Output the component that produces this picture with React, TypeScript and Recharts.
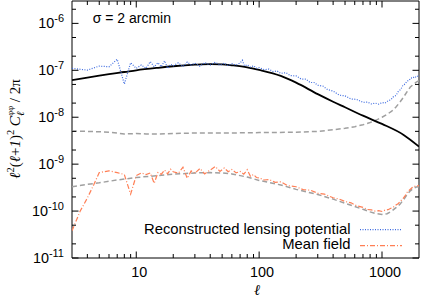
import React from 'react';
import { LineChart, Line, XAxis, YAxis, ReferenceArea } from 'recharts';

// multipole values and spectra
const theoryL = [3, 4, 5, 6, 8, 10, 15, 20, 30, 40, 50, 60, 80, 100, 150, 200, 300, 400, 500, 700, 1000, 1500, 2000];
const theoryV = [6.2e-8, 7.0e-8, 7.7e-8, 8.3e-8, 9.2e-8, 1.0e-7, 1.13e-7, 1.22e-7, 1.32e-7, 1.36e-7, 1.34e-7, 1.28e-7, 1.16e-7, 1.02e-7, 7.6e-8, 5.45e-8, 3.1e-8, 2.14e-8, 1.63e-8, 1.08e-8, 7.2e-9, 4.2e-9, 2.37e-9];

const reconL = [3, 4, 5, 6, 7, 8, 9, 10, 11, 12, 13, 14, 15, 16, 17, 18, 19, 20, 22, 24, 26, 28, 30, 33, 36, 40, 44, 48, 52, 56, 60, 65, 70, 73, 76, 80, 85, 90, 95, 100, 110, 120, 130, 140, 150, 165, 180, 200, 220, 240, 260, 280, 300, 330, 360, 400, 450, 500, 560, 620, 700, 760, 820, 880, 940, 1000, 1060, 1120, 1180, 1240, 1300, 1360, 1420, 1480, 1540, 1600, 1660, 1720, 1780, 1840, 1900, 1960, 2000];
const reconV = [1.10e-7, 1.01e-7, 1.23e-7, 1.19e-7, 1.72e-7, 5.1e-8, 1.45e-7, 1.10e-7, 1.30e-7, 1.10e-7, 1.53e-7, 1.19e-7, 1.45e-7, 1.19e-7, 1.60e-7, 1.10e-7, 1.34e-7, 1.25e-7, 1.45e-7, 1.19e-7, 1.50e-7, 1.30e-7, 1.42e-7, 1.22e-7, 1.46e-7, 1.30e-7, 1.48e-7, 1.28e-7, 1.42e-7, 1.26e-7, 1.38e-7, 1.29e-7, 1.44e-7, 1.64e-7, 1.24e-7, 1.31e-7, 1.17e-7, 1.25e-7, 1.11e-7, 1.14e-7, 1.03e-7, 1.06e-7, 9.4e-8, 9.7e-8, 8.6e-8, 8.9e-8, 7.7e-8, 7.6e-8, 6.5e-8, 6.5e-8, 5.5e-8, 5.5e-8, 4.8e-8, 4.6e-8, 3.9e-8, 3.6e-8, 2.95e-8, 2.85e-8, 2.45e-8, 2.4e-8, 2.08e-8, 2.1e-8, 1.92e-8, 2.0e-8, 1.9e-8, 2.05e-8, 2.0e-8, 2.25e-8, 2.35e-8, 2.75e-8, 2.9e-8, 3.6e-8, 3.9e-8, 4.8e-8, 5.1e-8, 5.9e-8, 6.1e-8, 6.9e-8, 6.8e-8, 7.4e-8, 7.1e-8, 7.5e-8, 7.1e-8];

const noiseHiL = [3, 4, 5, 6, 7, 8, 10, 12, 15, 20, 30, 50, 100, 200, 300, 400, 500, 600, 700, 800, 900, 1000, 1100, 1200, 1300, 1400, 1500, 1600, 1700, 1800, 1900, 2000];
const noiseHiV = [5.0e-9, 5.0e-9, 4.9e-9, 4.8e-9, 4.6e-9, 4.4e-9, 4.5e-9, 4.4e-9, 4.4e-9, 4.5e-9, 4.6e-9, 4.6e-9, 4.7e-9, 4.8e-9, 5.0e-9, 5.4e-9, 5.8e-9, 6.3e-9, 6.9e-9, 7.7e-9, 8.7e-9, 1.0e-8, 1.15e-8, 1.35e-8, 1.65e-8, 2.1e-8, 2.7e-8, 3.5e-8, 4.4e-8, 5.0e-8, 5.6e-8, 6.0e-8];

const meanL = [3, 3.5, 4, 4.5, 5, 6, 7, 8, 9, 10, 11, 12, 13, 14, 15, 16, 17, 18, 19, 20, 22, 24, 26, 28, 30, 33, 36, 40, 44, 48, 52, 56, 60, 65, 70, 75, 80, 85, 90, 95, 100, 110, 120, 135, 150, 170, 200, 230, 260, 300, 340, 400, 450, 500, 560, 620, 700, 760, 820, 880, 940, 1000, 1060, 1120, 1180, 1240, 1300, 1360, 1420, 1480, 1540, 1600, 1660, 1720, 1780, 1840, 1900, 1960, 2000];
const meanV = [3.8e-11, 1.0e-10, 1.9e-10, 3.6e-10, 6.6e-10, 7.2e-10, 6.6e-10, 6.0e-10, 2.3e-10, 5.7e-10, 6.5e-10, 6.0e-10, 6.5e-10, 3.9e-10, 6.6e-10, 6.1e-10, 7.5e-10, 6.2e-10, 7.8e-10, 6.9e-10, 6.4e-10, 8.6e-10, 5.0e-10, 7.2e-10, 6.4e-10, 8.1e-10, 6.2e-10, 7.5e-10, 8.9e-10, 7.0e-10, 8.3e-10, 6.9e-10, 7.7e-10, 6.5e-10, 7.0e-10, 6.1e-10, 7.6e-10, 5.5e-10, 6.0e-10, 5.2e-10, 5.1e-10, 4.6e-10, 4.7e-10, 4.1e-10, 4.2e-10, 3.5e-10, 3.3e-10, 2.85e-10, 2.8e-10, 2.4e-10, 2.3e-10, 1.92e-10, 1.8e-10, 1.6e-10, 1.5e-10, 1.3e-10, 1.2e-10, 1.08e-10, 1.06e-10, 1.0e-10, 1.02e-10, 9.8e-11, 1.05e-10, 1.07e-10, 1.15e-10, 1.22e-10, 1.35e-10, 1.45e-10, 1.65e-10, 1.85e-10, 2.1e-10, 2.5e-10, 2.75e-10, 3.0e-10, 3.25e-10, 3.35e-10, 3.5e-10, 3.45e-10, 3.5e-10];

const noiseLoL = [3, 4, 5, 7, 10, 15, 20, 30, 40, 50, 60, 80, 100, 150, 200, 300, 400, 500, 600, 700, 800, 900, 1000, 1100, 1200, 1300, 1400, 1500, 1600, 1700, 1800, 1900, 2000];
const noiseLoV = [3.3e-10, 3.7e-10, 4.0e-10, 4.6e-10, 5.2e-10, 5.7e-10, 6.1e-10, 6.5e-10, 6.6e-10, 6.5e-10, 6.2e-10, 5.3e-10, 4.5e-10, 3.6e-10, 2.9e-10, 2.25e-10, 1.8e-10, 1.47e-10, 1.25e-10, 1.09e-10, 9.6e-11, 8.8e-11, 8.5e-11, 8.8e-11, 1.0e-10, 1.18e-10, 1.4e-10, 1.75e-10, 2.25e-10, 2.7e-10, 3.05e-10, 3.25e-10, 3.3e-10];

const xTicks = [4, 5, 6, 7, 8, 9, 10, 20, 30, 40, 50, 60, 70, 80, 90, 100, 200, 300, 400, 500, 600, 700, 800, 900, 1000];
const xMajor = [10, 100, 1000];
const yTicks = [1e-11, 2e-11, 5e-11, 1e-10, 2e-10, 5e-10, 1e-9, 2e-9, 5e-9, 1e-8, 2e-8, 5e-8, 1e-7, 2e-7, 5e-7, 1e-6, 2e-6];

const toRows = (ls: number[], vs: number[]) => ls.map((l, i) => ({ l, v: vs[i] }));

const W = 422;
const H = 303;
const LEFT = 72;
const RIGHT = 419;
const TOP = 1;
const BOTTOM = 258;
const SANS = '"Liberation Sans", Arial, Helvetica, sans-serif';
const SERIF = '"Liberation Serif", "DejaVu Serif", serif';

const XTick = (props: any) => {
  const { x, payload } = props;
  const v = payload.value;
  const major = xMajor.includes(v);
  const len = major ? 6.5 : 4;
  return (
    <g>
      <line x1={x} x2={x} y1={BOTTOM} y2={BOTTOM - len} stroke="#000" />
      <line x1={x} x2={x} y1={TOP} y2={TOP + len} stroke="#000" />
      {major && (
        <text x={x + 3} y={277} textAnchor="middle" fontFamily={SANS} fontSize={14.4} fill="#000">
          {v}
        </text>
      )}
    </g>
  );
};

const YTick = (props: any) => {
  const { y, payload } = props;
  const e = Math.log10(payload.value);
  const major = Math.abs(e - Math.round(e)) < 1e-6;
  const len = major ? 6.5 : 4;
  return (
    <g>
      <line x1={LEFT} x2={LEFT + len} y1={y} y2={y} stroke="#000" />
      <line x1={RIGHT} x2={RIGHT - len} y1={y} y2={y} stroke="#000" />
      {major && (
        <text x={64} y={y + 5} textAnchor="end" fontFamily={SANS} fontSize={14.4} fill="#000">
          10
          <tspan dy={-6} fontSize={11}>{Math.round(e)}</tspan>
        </text>
      )}
    </g>
  );
};

export default function App() {
  return (
    <div style={{ position: 'absolute', left: 0, top: 0, width: W, height: H, background: '#fff' }}>
      <LineChart width={W} height={H} margin={{ top: TOP, right: W - RIGHT, bottom: 0, left: 0 }}>
        <XAxis
          xAxisId="x"
          dataKey="l"
          type="number"
          scale="log"
          domain={[3, 2000]}
          allowDataOverflow
          ticks={xTicks}
          interval={0}
          height={H - BOTTOM}
          axisLine={false}
          tickLine={false}
          tick={<XTick />}
        />
        <YAxis
          yAxisId="y"
          type="number"
          scale="log"
          domain={[1e-11, 3e-6]}
          allowDataOverflow
          ticks={yTicks}
          interval={0}
          width={LEFT}
          axisLine={false}
          tickLine={false}
          tick={<YTick />}
        />
        <Line xAxisId="x" yAxisId="y" data={toRows(noiseHiL, noiseHiV)} dataKey="v" type="linear" stroke="#a0a0a0" strokeWidth={1.5} strokeDasharray="5 3" dot={false} isAnimationActive={false} />
        <Line xAxisId="x" yAxisId="y" data={toRows(noiseLoL, noiseLoV)} dataKey="v" type="linear" stroke="#a0a0a0" strokeWidth={1.5} strokeDasharray="5 3" dot={false} isAnimationActive={false} />
        <Line xAxisId="x" yAxisId="y" data={toRows(theoryL, theoryV)} dataKey="v" type="monotone" stroke="#000" strokeWidth={1.8} dot={false} isAnimationActive={false} />
        <Line xAxisId="x" yAxisId="y" data={toRows(reconL, reconV)} dataKey="v" type="linear" stroke="#3d6be0" strokeWidth={1.2} strokeDasharray="1 1.5" dot={false} isAnimationActive={false} />
        <Line xAxisId="x" yAxisId="y" data={toRows(meanL, meanV)} dataKey="v" type="linear" stroke="#ff7f55" strokeWidth={1.2} strokeDasharray="5 2 1 2" dot={false} isAnimationActive={false} />
        <ReferenceArea xAxisId="x" yAxisId="y" x1={3} x2={2000} y1={1e-11} y2={3e-6} fill="none" stroke="#000" strokeWidth={1} ifOverflow="visible" />
      </LineChart>
      <svg width={W} height={H} style={{ position: 'absolute', left: 0, top: 0, pointerEvents: 'none' }}>
        <text x={92.7} y={23.3} fontFamily={SANS} fontSize={14} fill="#000">σ = 2 arcmin</text>
        <text x={350.5} y={234.3} textAnchor="end" fontFamily={SANS} fontSize={14.8} fill="#000">Reconstructed lensing potential</text>
        <line x1={360} x2={402} y1={229.7} y2={229.7} stroke="#3d6be0" strokeWidth={1.2} strokeDasharray="1 1.5" />
        <text x={350.5} y={249.3} textAnchor="end" fontFamily={SANS} fontSize={14.8} fill="#000">Mean field</text>
        <line x1={360} x2={402} y1={245.7} y2={245.7} stroke="#ff7f55" strokeWidth={1.2} strokeDasharray="5 2 1 2" />
        <text x={257} y={295} textAnchor="middle" fontFamily={SERIF} fontStyle="italic" fontSize={15} fill="#000">ℓ</text>
        <text transform="translate(20,129) rotate(-90)" textAnchor="middle" fontFamily={SERIF} fontSize={15} fill="#000">
          <tspan fontStyle="italic">ℓ</tspan>
          <tspan dy={-6} fontSize={10.5}>2</tspan>
          <tspan dy={6}>(</tspan>
          <tspan fontStyle="italic">ℓ</tspan>
          <tspan>+</tspan>
          <tspan fontStyle="italic">1</tspan>
          <tspan>)</tspan>
          <tspan dy={-6} fontSize={10.5}>2</tspan>
          <tspan dy={6}> </tspan>
          <tspan fontStyle="italic">C</tspan>
          <tspan dy={4} fontSize={10.5} fontStyle="italic">ℓ</tspan>
          <tspan dx={-4} dy={-11} fontSize={8.5}>φφ</tspan>
          <tspan dy={7}> / 2π</tspan>
        </text>
      </svg>
    </div>
  );
}
